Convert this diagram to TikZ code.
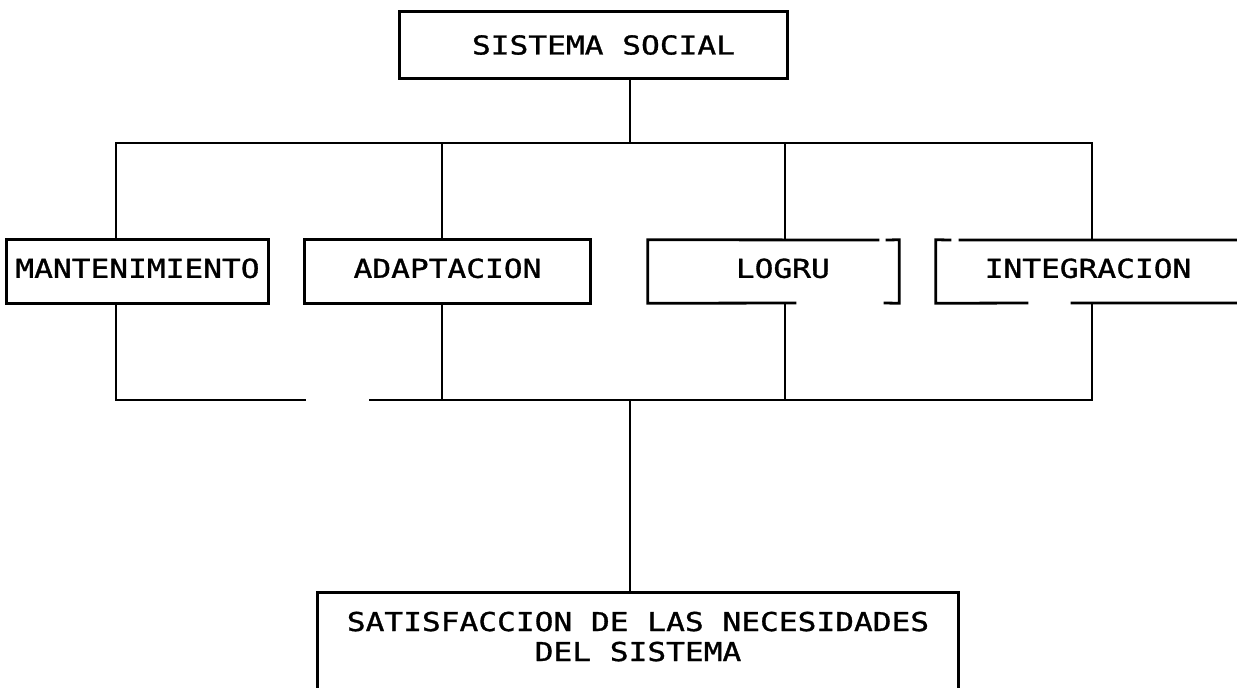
\documentclass[tikz,border=0pt]{standalone}
\usepackage{fontspec}
\newfontfamily\dm[FakeStretch=1.2,FakeBold=1.2]{DejaVu Sans Mono}
\begin{document}
\begin{tikzpicture}[x=0.75pt,y=-0.75pt,
  line/.style={line width=2.1pt,line cap=rect,line join=miter},
  boxnode/.style={draw=none,inner sep=0pt,font=\dm\fontsize{19.5pt}{22.5pt}\selectfont,align=center}]
\useasboundingbox (0,0) rectangle (1237,687);
% nodes
\node[boxnode,minimum width=387*0.75pt,minimum height=66*0.75pt] (top) at (593.5,45) {\hspace*{15pt}SISTEMA SOCIAL};
\node[boxnode,minimum width=261*0.75pt,minimum height=63*0.75pt] (m) at (137.5,271.5) {\raisebox{5pt}{MANTENIMIENTO}};
\node[boxnode,minimum width=285*0.75pt,minimum height=63*0.75pt] (a) at (447.5,271.5) {\raisebox{5pt}{ADAPTACION}};
\node[boxnode,minimum width=251*0.75pt,minimum height=63*0.75pt] (l) at (773.5,271.5) {\raisebox{5pt}{\hspace*{14pt}LOGRU}};
\node[boxnode,minimum width=304*0.75pt,minimum height=63*0.75pt] (i) at (1088,271.5) {\raisebox{5pt}{INTEGRACION}};
\node[boxnode,minimum width=640*0.75pt,minimum height=94*0.75pt] (bot) at (638,640) {\raisebox{3pt}{\begin{tabular}{@{}c@{}}SATISFACCION DE LAS NECESIDADES\\DEL SISTEMA\end{tabular}}};
% coordinates
\coordinate (s1) at (630,143);
\coordinate (d1) at (116,143);
\coordinate (d2) at (442,143);
\coordinate (d3) at (785,143);
\coordinate (d4) at (1092,143);
\coordinate (e1) at (116,400);
\coordinate (e2) at (442,400);
\coordinate (e3) at (785,400);
\coordinate (e4) at (1092,400);
\coordinate (gL) at (305,400);
\coordinate (gR) at (370,400);
\coordinate (s2) at (630,400);
% box outlines
\draw[line] (top.north west) rectangle (top.south east);
\draw[line] (m.north west) rectangle (m.south east);
\draw[line] (a.north west) rectangle (a.south east);
\draw[line] (795,303) -- (l.south west) -- (l.north west) -- (878,240)
            (887,240) -- (l.north east) -- (l.south east) -- (885,303);
\draw[line] (1240,240) -- (960,240) (950,240) -- (i.north west) -- (i.south west) -- (1027,303)
            (1072,303) -- (1240,303);
\draw[line] (bot.south west) -- (bot.north west) -- (bot.north east) -- (bot.south east);
% connectors
\draw[line] (s1 |- top.south) -- (s1);
\draw[line] (d1) -- (d4);
\draw[line] (d1) -- (d1 |- m.north);
\draw[line] (d2) -- (d2 |- a.north);
\draw[line] (d3) -- (d3 |- l.north);
\draw[line] (d4) -- (d4 |- i.north);
\draw[line] (e1 |- m.south) -- (e1) -- (gL);
\draw[line] (gR) -- (e4) -- (e4 |- i.south);
\draw[line] (e2 |- a.south) -- (e2);
\draw[line] (e3 |- l.south) -- (e3);
\draw[line] (s2) -- (s2 |- bot.north);
\end{tikzpicture}
\end{document}
